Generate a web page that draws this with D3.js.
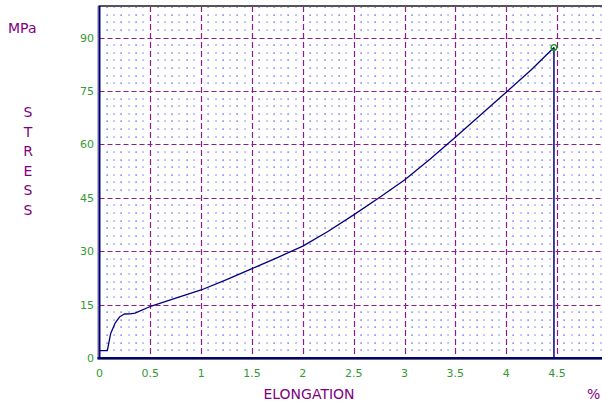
<!DOCTYPE html>
<html><head><meta charset="utf-8">
<script src="https://cdn.jsdelivr.net/npm/d3@7"></script>
<style>html,body{margin:0;padding:0;background:#fff;}svg{display:block;}</style>
</head><body>
<svg id="c" width="602" height="405"></svg>
<script>
const elongation = [0, 0.077, 0.11, 0.152, 0.2, 0.244, 0.3, 0.35, 0.51, 0.75, 1.0, 1.25, 1.5, 1.75, 2.0, 2.25, 2.5, 2.75, 3.0, 3.25, 3.5, 3.75, 4.0, 4.25, 4.47];
const stress = [2.05, 2.05, 6.9, 9.7, 11.6, 12.35, 12.4, 12.6, 14.6, 16.8, 19.1, 22.0, 25.1, 28.2, 31.4, 35.6, 40.2, 45.0, 50.0, 55.8, 62.0, 68.3, 74.6, 81.0, 87.2];
const xTicks = [0, 0.5, 1, 1.5, 2, 2.5, 3, 3.5, 4, 4.5];
const xTickLabels = ["0", "0.5", "1", "1.5", "2", "2.5", "3", "3.5", "4", "4.5"];
const yTicks = [0, 15, 30, 45, 60, 75, 90];
const yTickLabels = ["0", "15", "30", "45", "60", "75", "90"];
const yTitle = ["S", "T", "R", "E", "S", "S"];

(function () {
const svg = d3.select("#c");
const pl = 99.5, pr = 602, pt = 6, pb = 358;
const x = d3.scaleLinear().domain([0, 4.5]).range([pl, 557]);
const y = d3.scaleLinear().domain([0, 90]).range([pb, 37.5]);

const purple = "#800080", green = "#339933", navy = "#000080";
const font = "DejaVu Sans, Verdana, sans-serif";

// minor dot grid
const g = svg.append("g");
const xs = [], ys = [];
for (let k = 1; x(k * 0.5 / 7) < pr; k++) if (k % 7) xs.push(k * 0.5 / 7);
for (let k = 1; y(k * 15 / 7) > pt + 0.5; k++) if (k % 7) ys.push(k * 15 / 7);
ys.forEach((yv, j) => xs.forEach((xv, i) => {
  const dark = i % 2 === 0;
  g.append("rect")
    .attr("x", Math.round(x(xv)) - (dark ? 0.5 : 0.75))
    .attr("y", Math.round(y(yv)) - (dark ? 0.5 : 0.75))
    .attr("width", dark ? 1.2 : 1.6).attr("height", dark ? 1.2 : 1.6)
    .attr("fill", dark ? "#2a2aff" : "#a8a8ff");
}));

// major dashed grid
svg.append("g").selectAll("line").data(yTicks.filter(d => d > 0)).join("line")
  .attr("x1", pl).attr("x2", pr)
  .attr("y1", d => Math.round(y(d)) + 0.5).attr("y2", d => Math.round(y(d)) + 0.5)
  .attr("stroke", "#8e1a8e").attr("stroke-width", 1.2).attr("stroke-dasharray", "5,3");
svg.append("g").selectAll("line").data(xTicks.filter(d => d > 0)).join("line")
  .attr("y1", pt).attr("y2", pb)
  .attr("x1", d => Math.round(x(d)) + 0.5).attr("x2", d => Math.round(x(d)) + 0.5)
  .attr("stroke", "#8e1a8e").attr("stroke-width", 1.2).attr("stroke-dasharray", "6,3");

// frame
svg.append("line").attr("x1", pl - 1).attr("x2", pr).attr("y1", pt).attr("y2", pt)
  .attr("stroke", "#555").attr("stroke-width", 2);
svg.append("line").attr("x1", pl - 1.5).attr("x2", pl - 1.5).attr("y1", pt).attr("y2", pb + 1)
  .attr("stroke", "#777").attr("stroke-width", 1);
svg.append("line").attr("x1", pl).attr("x2", pl).attr("y1", pt).attr("y2", pb + 1)
  .attr("stroke", navy).attr("stroke-width", 2);
svg.append("line").attr("x1", pl - 2).attr("x2", pr).attr("y1", pb).attr("y2", pb)
  .attr("stroke", navy).attr("stroke-width", 2);
svg.append("line").attr("x1", pl - 2).attr("x2", pr).attr("y1", pb + 1.5).attr("y2", pb + 1.5)
  .attr("stroke", "#666").attr("stroke-width", 1);

// curve
const pts = elongation.map((e, i) => [e, stress[i]]);
const line = d3.line().x(d => x(d[0])).y(d => y(d[1]));
svg.append("path").attr("d", line(pts)).attr("fill", "none")
  .attr("stroke", navy).attr("stroke-width", 1.3).attr("stroke-linejoin", "round");
const last = pts[pts.length - 1];
svg.append("line").attr("x1", x(last[0])).attr("x2", x(last[0]))
  .attr("y1", y(last[1])).attr("y2", pb)
  .attr("stroke", navy).attr("stroke-width", 1.5);
svg.append("circle").attr("cx", x(last[0])).attr("cy", y(last[1])).attr("r", 2.8)
  .attr("fill", "none").attr("stroke", "#119911").attr("stroke-width", 1.4);

// tick labels
svg.append("g").selectAll("text").data(yTicks).join("text")
  .attr("x", 94).attr("y", d => y(d) + 4)
  .attr("text-anchor", "end").attr("font-family", font).attr("font-size", 11)
  .attr("fill", green).text((d, i) => yTickLabels[i]);
svg.append("g").selectAll("text").data(xTicks).join("text")
  .attr("x", d => x(d)).attr("y", 377)
  .attr("text-anchor", "middle").attr("font-family", font).attr("font-size", 11)
  .attr("fill", green).text((d, i) => xTickLabels[i]);

// titles
svg.append("text").attr("x", 8).attr("y", 33).attr("font-family", font).attr("font-size", 14)
  .attr("fill", purple).text("MPa");
svg.append("g").selectAll("text").data(yTitle).join("text")
  .attr("x", 28).attr("y", (d, i) => 117 + i * 19.6)
  .attr("text-anchor", "middle").attr("font-family", font).attr("font-size", 14)
  .attr("fill", purple).text(d => d);
svg.append("text").attr("x", 309).attr("y", 399).attr("text-anchor", "middle")
  .attr("font-family", font).attr("font-size", 14).attr("fill", purple).text("ELONGATION");
svg.append("text").attr("x", 587).attr("y", 399).attr("font-family", font).attr("font-size", 14)
  .attr("fill", purple).text("%");
})();
</script>
</body></html>
